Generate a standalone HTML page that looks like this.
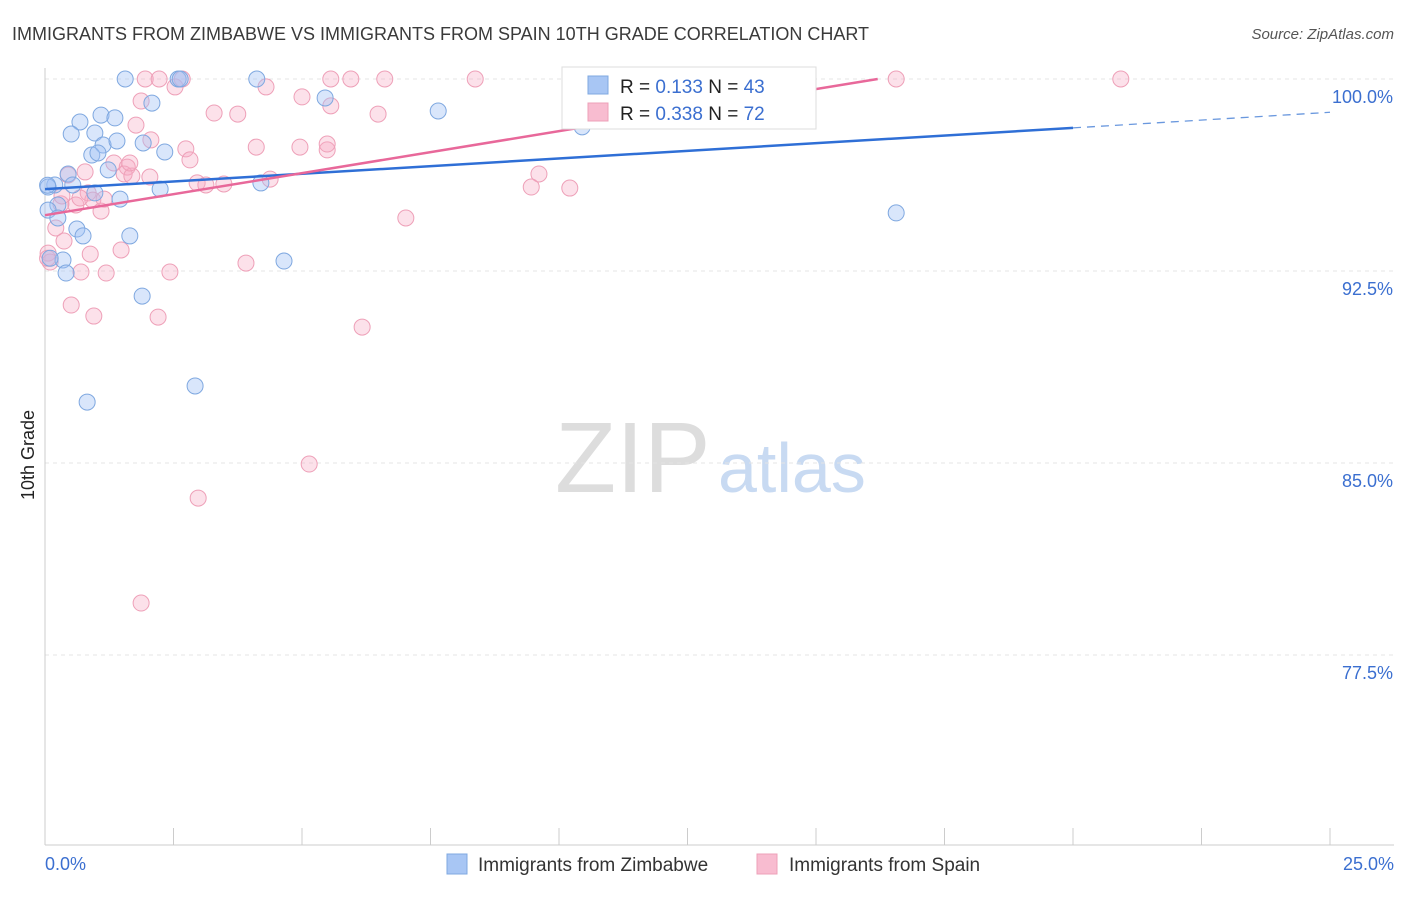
<!DOCTYPE html>
<html><head><meta charset="utf-8"><style>
body{margin:0;background:#fff;font-family:"Liberation Sans",sans-serif;}
svg text{font-family:"Liberation Sans",sans-serif;}
</style></head><body>
<svg width="1406" height="892" xmlns="http://www.w3.org/2000/svg">
<text x="12" y="40" font-size="18" fill="#3a3a3a">IMMIGRANTS FROM ZIMBABWE VS IMMIGRANTS FROM SPAIN 10TH GRADE CORRELATION CHART</text>
<text x="1394" y="39" font-size="15" fill="#555" text-anchor="end" font-style="italic">Source: ZipAtlas.com</text>
<text x="34" y="455" font-size="18" fill="#222" text-anchor="middle" transform="rotate(-90 34 455)">10th Grade</text>
<text x="555" y="492" font-size="100" fill="#ddd" font-family="Liberation Serif">ZIP</text>
<text x="718" y="492" font-size="70" fill="#c8daf2">atlas</text>
<g id="grid"></g><g id="axes"></g><g id="pts"></g><g id="trend"></g>
<g>
<rect x="562" y="67" width="254" height="62" fill="#fff" stroke="#ddd"/>
<rect x="588" y="76" width="20" height="18" fill="#a8c6f4" stroke="#7fa8e0"/>
<rect x="588" y="103" width="20" height="18" fill="#f8bcd0" stroke="#eea0b8"/>
<text x="620" y="93" font-size="19" fill="#222">R = <tspan fill="#3b6fd0">0.133</tspan>   N = <tspan fill="#3b6fd0">43</tspan></text>
<text x="620" y="120" font-size="19" fill="#222">R = <tspan fill="#3b6fd0">0.338</tspan>   N = <tspan fill="#3b6fd0">72</tspan></text>
</g>
<g>
<rect x="447" y="854" width="20" height="20" fill="#a8c6f4" stroke="#7fa8e0"/>
<text x="478" y="871" font-size="19" fill="#333">Immigrants from Zimbabwe</text>
<rect x="757" y="854" width="20" height="20" fill="#f8bcd0" stroke="#eea0b8"/>
<text x="789" y="871" font-size="19" fill="#333">Immigrants from Spain</text>
</g>
</svg>
<script>
const yTicks=[100,92.5,85,77.5];
const yTickLabels=["100.0%","92.5%","85.0%","77.5%"];
const xLabels=["0.0%","25.0%"];
const blueX=[1.56,4.12,2.59,2.08,5.45,7.65,1.09,1.36,0.68,0.51,0.97,1.13,1.40,1.91,0.91,1.03,2.33,0.45,1.23,0.19,0.06,0.54,2.24,4.20,0.97,1.46,0.25,0.06,0.25,0.62,0.74,1.65,0.35,0.41,4.65,1.89,2.92,0.82,16.56,10.45,2.63,0.1,0.05];
const blueY=[100,100,100,99.06,99.26,98.75,98.59,98.48,98.32,97.85,97.89,97.42,97.58,97.5,97.03,97.11,97.15,96.29,96.45,95.86,95.78,95.86,95.70,95.94,95.55,95.31,95.08,94.88,94.57,94.14,93.87,93.87,92.93,92.42,92.89,91.52,88.01,87.38,94.77,98.13,100,93.0,95.85];
const pinkX=[1.95,2.22,2.53,2.67,5.56,5.95,6.61,8.37,11.95,16.56,20.93,4.30,5.00,1.87,5.56,3.29,3.75,6.48,1.77,2.06,4.11,4.96,5.49,5.49,2.74,2.82,1.34,1.60,1.54,2.04,1.69,2.96,3.48,4.38,3.13,9.61,9.46,10.21,0.84,0.45,0.78,0.93,0.60,0.31,1.09,7.02,0.21,0.37,0.88,1.48,0.06,0.10,0.70,1.19,2.43,3.91,0.51,0.95,2.20,6.17,5.14,2.98,1.87,1.15,1.65,0.33,0.68,0.05];
const pinkY=[100,100,99.69,100,100,100,100,100,100,100,100,99.69,99.3,99.14,98.95,98.67,98.63,98.63,98.2,97.62,97.34,97.34,97.23,97.46,97.27,96.84,96.72,96.56,96.29,96.17,96.21,95.94,95.9,96.09,95.86,96.29,95.78,95.74,95.55,96.25,96.37,95.27,95.08,95.12,94.84,94.57,94.18,93.67,93.16,93.32,93.2,92.85,92.46,92.42,92.46,92.81,91.17,90.74,90.7,90.31,84.96,83.63,79.53,95.31,96.72,95.43,95.35,93.0];
const blueTrend=[[0,95.7],[20,98.09],[25,98.7]];
const pinkTrend=[[0,94.68],[16.2,100]];
const NS="http://www.w3.org/2000/svg";
const sx=v=>45+v*51.4, sy=v=>79+(100-v)*25.6;
function mk(t,a,p){const e=document.createElementNS(NS,t);for(const k in a)e.setAttribute(k,a[k]);document.getElementById(p).appendChild(e);return e;}
yTicks.forEach((t,i)=>{
 const g=mk('line',{x1:45,x2:1394,y1:sy(t),y2:sy(t),stroke:'#e4e4e4','stroke-dasharray':'4,4'},'grid');
 
 
 const l=mk('text',{x:1393,y:sy(t)+24,'font-size':18,fill:'#3b6fd0','text-anchor':'end'},'axes');l.textContent=yTickLabels[i];
 
 
});
const ax=mk('line',{x1:45,x2:45,y1:68,y2:845,stroke:'#ccc'},'axes');


const bx=mk('line',{x1:45,x2:1394,y1:845,y2:845,stroke:'#ccc'},'axes');


for(let i=0;i<=10;i++){const t=mk('line',{x1:sx(i*2.5),x2:sx(i*2.5),y1:828,y2:845,stroke:'#ccc'},'axes');
 
 }
[[0,'start',45],[25,'end',1394]].forEach((d,i)=>{const t=mk('text',{x:d[2],y:870,'font-size':18,fill:'#3b6fd0','text-anchor':d[1]},'axes');t.textContent=xLabels[i];
 
 });
function pts(X,Y,fill,stroke,name){X.forEach((x,i)=>{const c=mk('circle',{cx:sx(x),cy:sy(Y[i]),r:8,fill:fill,stroke:stroke,'stroke-width':1},'pts');
 
 });}
pts(pinkX,pinkY,'rgba(246,170,195,0.35)','#eea0b8','spain-point');
pts(blueX,blueY,'rgba(160,192,244,0.4)','#7fa8e0','zimbabwe-point');
const b1=mk('line',{x1:sx(blueTrend[0][0]),y1:sy(blueTrend[0][1]),x2:sx(blueTrend[1][0]),y2:sy(blueTrend[1][1]),stroke:'#2f6fd6','stroke-width':2.5},'trend');


const b2=mk('line',{x1:sx(blueTrend[1][0]),y1:sy(blueTrend[1][1]),x2:sx(blueTrend[2][0]),y2:sy(blueTrend[2][1]),stroke:'#6a98de','stroke-width':1.3,'stroke-dasharray':'8,6'},'trend');


const p1=mk('line',{x1:sx(pinkTrend[0][0]),y1:sy(pinkTrend[0][1]),x2:sx(pinkTrend[1][0]),y2:sy(pinkTrend[1][1]),stroke:'#e8689a','stroke-width':2.5},'trend');


</script>
</body></html>
